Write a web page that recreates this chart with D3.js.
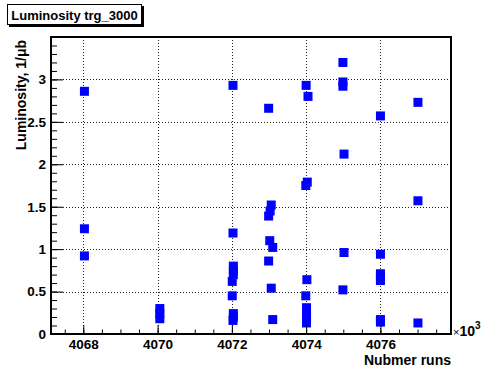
<!DOCTYPE html>
<html>
<head>
<meta charset="utf-8">
<script src="https://cdn.jsdelivr.net/npm/d3@7"></script>
<style>
  html, body { margin: 0; padding: 0; background: #fff; }
  svg { display: block; font-family: "Liberation Sans", Arial, Helvetica, sans-serif; }
</style>
</head>
<body>
<svg id="chart" width="481" height="369"></svg>
<script>
// Run numbers (in units of 10^3) and integrated luminosity per run, 1/μb
const runs = [
  4068.03, 4068.03, 4068.03,
  4070.06, 4070.06, 4070.06,
  4072.03, 4072.03, 4072.04, 4072.04, 4072.04, 4072.01, 4072.01, 4072.04, 4072.04, 4072.03,
  4072.99, 4073.06, 4073.03, 4072.99, 4073.02, 4073.10, 4072.99, 4073.06, 4073.10,
  4074.00, 4074.05, 4074.03, 4073.99, 4074.02, 4073.99, 4074.01, 4074.01, 4074.01, 4074.01,
  4074.99, 4074.99, 4074.99, 4075.02, 4075.02, 4074.99,
  4076.00, 4076.00, 4076.00, 4076.00, 4076.00, 4076.00, 4076.00,
  4077.01, 4077.01, 4077.01
];
const lumi = [
  2.86, 1.24, 0.92,
  0.30, 0.24, 0.18,
  2.93, 1.19, 0.80, 0.75, 0.70, 0.62, 0.45, 0.24, 0.20, 0.16,
  2.66, 1.52, 1.45, 1.39, 1.10, 1.02, 0.86, 0.54, 0.17,
  2.93, 2.80, 1.79, 1.75, 0.64, 0.45, 0.31, 0.25, 0.19, 0.13,
  3.20, 2.97, 2.92, 2.12, 0.96, 0.52,
  2.57, 0.94, 0.71, 0.67, 0.63, 0.17, 0.14,
  2.73, 1.57, 0.13
];
const xTickValues = [4068, 4070, 4072, 4074, 4076];
const yTickValues = [0, 0.5, 1, 1.5, 2, 2.5, 3];
const xDomain = [4067.13, 4077.9];
const yDomain = [0, 3.5];
const titleText = "Luminosity trg_3000";
const xTitle = "Nubmer runs";
const yTitle = "Luminosity, 1/\u03BCb";

const svg = d3.select("#chart");
const frame = { left: 51, right: 451, top: 37, bottom: 334 };

const x = d3.scaleLinear().domain(xDomain).range([frame.left, frame.right]);
const y = d3.scaleLinear().domain(yDomain).range([frame.bottom, frame.top]);

// dotted grid at the labelled ticks
const grid = svg.append("g").attr("stroke", "#222").attr("stroke-width", 1)
  .attr("stroke-dasharray", "1,2").attr("fill", "none");
xTickValues.forEach(v => grid.append("line")
  .attr("x1", Math.round(x(v)) + 0.5).attr("x2", Math.round(x(v)) + 0.5)
  .attr("y1", frame.top).attr("y2", frame.bottom));
yTickValues.filter(v => v > 0).forEach(v => grid.append("line")
  .attr("y1", Math.round(y(v)) + 0.5).attr("y2", Math.round(y(v)) + 0.5)
  .attr("x1", frame.left).attr("x2", frame.right));

// markers
const ms = 9;
svg.append("g").selectAll("rect")
  .data(d3.range(runs.length))
  .join("rect")
  .attr("x", i => x(runs[i]) - ms / 2)
  .attr("y", i => y(lumi[i]) - ms / 2)
  .attr("width", ms).attr("height", ms)
  .attr("fill", "#0000ff");

// axes: major ticks with labels, minor ticks without
const xMinor = d3.range(4067.5, 4078, 0.5).filter(v => v > xDomain[0] && v < xDomain[1]);
const yMinor = d3.range(0, 3.5, 0.1).map(v => +v.toFixed(2));

const xAxisMinor = d3.axisBottom(x).tickValues(xMinor).tickSize(-4.5).tickFormat("");
const xAxisMajor = d3.axisBottom(x).tickValues(xTickValues).tickSize(-9).tickPadding(5)
  .tickFormat(d3.format("d"));
const yAxisMinor = d3.axisLeft(y).tickValues(yMinor).tickSize(-6).tickFormat("");
const yAxisMajor = d3.axisLeft(y).tickValues(yTickValues).tickSize(-12).tickPadding(5)
  .tickFormat(d => d3.format("")(d));

function styleAxis(g) {
  g.select(".domain").remove();
  g.selectAll("line").attr("stroke", "#000").attr("stroke-width", 1);
  g.selectAll("text").attr("fill", "#000").attr("font-weight", "bold")
    .attr("font-size", 13.5);
}
svg.append("g").attr("transform", `translate(0,${frame.bottom})`).call(xAxisMinor).call(styleAxis);
svg.append("g").attr("transform", `translate(0,${frame.bottom})`).call(xAxisMajor).call(styleAxis);
svg.append("g").attr("transform", `translate(${frame.left},0)`).call(yAxisMinor).call(styleAxis);
svg.append("g").attr("transform", `translate(${frame.left},0)`).call(yAxisMajor).call(styleAxis);

// frame
svg.append("rect")
  .attr("x", frame.left).attr("y", frame.top)
  .attr("width", frame.right - frame.left).attr("height", frame.bottom - frame.top)
  .attr("fill", "none").attr("stroke", "#000").attr("stroke-width", 2);

// axis titles
svg.append("text")
  .attr("x", frame.right).attr("y", 365)
  .attr("text-anchor", "end").attr("font-weight", "bold").attr("font-size", 14)
  .text(xTitle);

svg.append("text")
  .attr("transform", `translate(26,${frame.top + 3}) rotate(-90)`)
  .attr("text-anchor", "end").attr("font-weight", "bold").attr("font-size", 14)
  .text(yTitle);

// exponent of the x axis
const expo = svg.append("text").attr("x", 453).attr("y", 336).attr("fill", "#000");
expo.append("tspan").attr("font-size", 11).text("\u00D7");
expo.append("tspan").attr("font-size", 14).attr("font-weight", "bold").text("10");
expo.append("tspan").attr("font-size", 10).attr("font-weight", "bold").attr("dy", -7).text("3");

// title box with shadow
svg.append("rect").attr("x", 9).attr("y", 6).attr("width", 135).attr("height", 21).attr("fill", "#000");
svg.append("rect").attr("x", 7.5).attr("y", 4.5).attr("width", 134).attr("height", 20)
  .attr("fill", "#fff").attr("stroke", "#000").attr("stroke-width", 1);
svg.append("text")
  .attr("x", 74.5).attr("y", 19.5).attr("text-anchor", "middle")
  .attr("font-weight", "bold").attr("font-size", 13)
  .text(titleText);
</script>
</body>
</html>
